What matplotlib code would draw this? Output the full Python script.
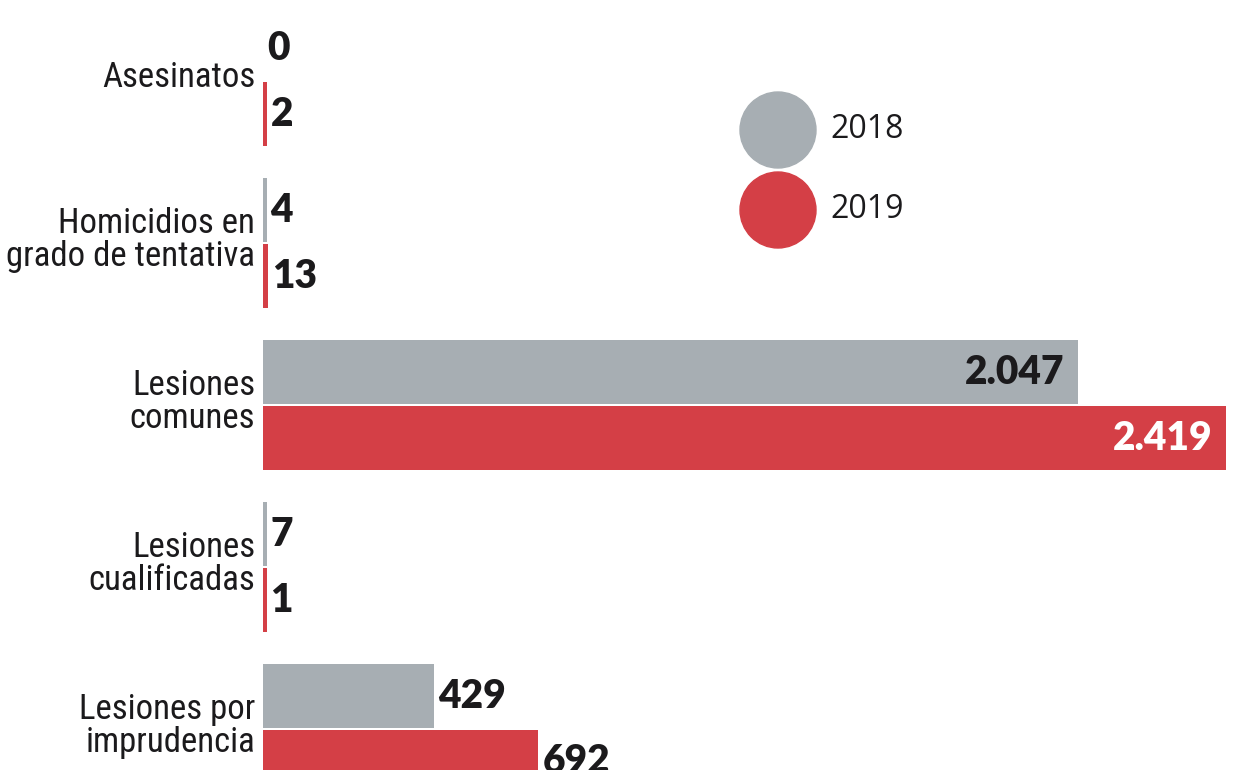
import matplotlib
matplotlib.use("Agg")
import matplotlib.pyplot as plt
from matplotlib import font_manager
from matplotlib.patches import Ellipse
import numpy as np

categories = ["Asesinatos", "Homicidios en\ngrado de tentativa", "Lesiones\ncomunes",
              "Lesiones\ncualificadas", "Lesiones por\nimprudencia"]
values_2018 = [0, 4, 2047, 7, 429]
values_2019 = [2, 13, 2419, 1, 692]
labels_2018 = ["0", "4", "2.047", "7", "429"]
labels_2019 = ["2", "13", "2.419", "1", "692"]
years = ["2018", "2019"]

GREY = "#a7aeb3"
RED = "#d43f46"
INK = "#1b1a1c"

# pick a narrow face for the category labels if one is installed
names = {f.name for f in font_manager.fontManager.ttflist}
narrow = [n for n in ["Roboto Condensed", "Open Sans Condensed", "Liberation Sans Narrow",
                      "Noto Sans Condensed", "DejaVu Sans Condensed"] if n in names]
label_font = narrow[:1] + ["Lato", "DejaVu Sans"]
num_font = ["Lato", "DejaVu Sans"]

fig = plt.figure(figsize=(12.48, 7.7), dpi=100)
ax = fig.add_axes([0, 0, 1, 1])

px_per_unit = 963 / 2419
ax.set_xlim(-263 / px_per_unit, (1248 - 263) / px_per_unit)
ax.set_ylim((770 - 81) / 162, -81 / 162)
ax.axis("off")

y = np.arange(len(categories))
off = 33 / 162
h = 64 / 162
min_w = 9  # thin stub so tiny counts stay visible, like the original

for vals, labs, col, dy in [(values_2018, labels_2018, GREY, -off),
                            (values_2019, labels_2019, RED, off)]:
    vals = np.array(vals)
    shown = np.where(vals > 0, np.maximum(vals, min_w), 0)
    ax.barh(y + dy, shown, height=h, color=col, edgecolor="none")
    for yi, v, w, lab in zip(y, vals, shown, labs):
        if v > 1000:
            ax.text(w - 33, yi + dy, lab, ha="right", va="center", fontsize=28,
                    family=num_font, weight="heavy",
                    color="white" if col == RED else INK)
        else:
            ax.text(w + 10, yi + dy, lab, ha="left", va="center", fontsize=28,
                    family=num_font, weight="heavy", color=INK)

for yi, cat in zip(y, categories):
    ax.text(-20, yi - 0.02, cat, ha="right", va="center", fontsize=25,
            family=label_font, color=INK, linespacing=1.0)

# legend circles
for i, (yr, col) in enumerate(zip(years, [GREY, RED])):
    cy = 1 - (130 + 80 * i) / 770
    fig.patches.append(Ellipse((778 / 1248, cy), 76 / 1248, 76 / 770, color=col,
                               transform=fig.transFigure))
    fig.text(830 / 1248, cy, yr, ha="left", va="center", fontsize=23,
             family=["Open Sans", "DejaVu Sans"], color=INK)

fig.savefig("out.png", dpi=100)
